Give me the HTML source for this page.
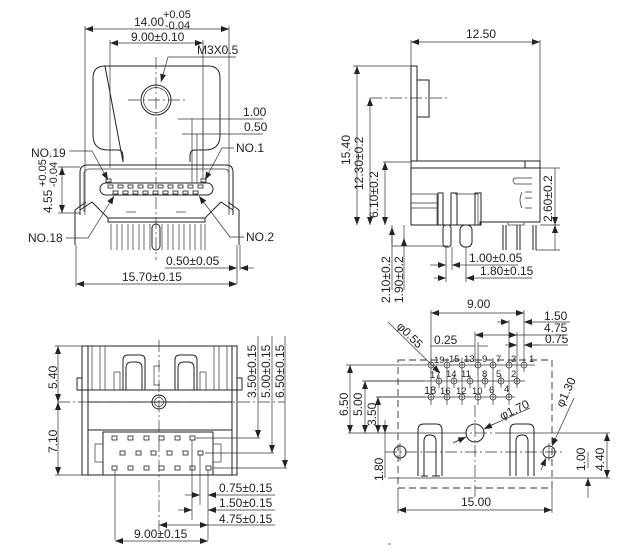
<!DOCTYPE html>
<html><head><meta charset="utf-8"><style>
html,body{margin:0;padding:0;background:#fff;}
svg{display:block;}
text{font-family:"Liberation Sans",sans-serif;font-size:12px;fill:#222;}
.l{stroke:#222;stroke-width:1;fill:none;}
.t{stroke:#333;stroke-width:0.7;fill:none;}
.c{stroke:#333;stroke-width:0.7;fill:none;stroke-dasharray:12,3,2,3;}
.d{stroke:#333;stroke-width:0.9;fill:none;stroke-dasharray:7,4;}
.p{stroke:#222;stroke-width:0.8;fill:#fff;}
</style></head><body>
<svg width="635" height="555" viewBox="0 0 635 555" xmlns="http://www.w3.org/2000/svg">
<defs>
<marker id="a" markerWidth="8" markerHeight="6" refX="8" refY="3" orient="auto-start-reverse" markerUnits="userSpaceOnUse"><path d="M0,0 L8,3 L0,6z" fill="#222"/></marker>
</defs>

<!-- ===== TOP LEFT ===== -->
<line class="t" x1="85" y1="26" x2="85" y2="215"/>
<line class="t" x1="229" y1="26" x2="229" y2="215"/>
<line class="t" x1="85" y1="29" x2="229" y2="29" marker-start="url(#a)" marker-end="url(#a)"/>
<text x="134" y="26">14.00</text><text x="163" y="18" style="font-size:11px">+0.05</text><text x="165" y="29" style="font-size:11px">-0.04</text>
<line class="t" x1="110" y1="40" x2="110" y2="168"/>
<line class="t" x1="203" y1="40" x2="203" y2="168"/>
<line class="t" x1="110" y1="43" x2="203" y2="43" marker-start="url(#a)" marker-end="url(#a)"/>
<text x="131" y="41">9.00±0.10</text>
<text x="197" y="54">M3X0.5</text>
<polyline class="t" points="236,57 168,57 161,82" marker-end="url(#a)"/>
<path class="l" d="M105,66 H208 Q220,66 220,78 V135 Q220,150 205,150 H195 Q190,150 190,156 V162 M123,162 V156 Q123,150 118,150 H108 Q93,150 93,135 V78 Q93,66 105,66z"/>
<circle class="l" cx="156" cy="100" r="15"/><circle class="t" cx="156" cy="100" r="12.5"/>
<line class="c" x1="128" y1="100" x2="185" y2="100"/>
<line class="c" x1="156" y1="57" x2="156" y2="260"/>
<line class="t" x1="178" y1="119" x2="263" y2="119"/><text x="243" y="116">1.00</text>
<line class="t" x1="182" y1="134" x2="263" y2="134"/><text x="244" y="131">0.50</text>
<line class="t" x1="192" y1="119" x2="192" y2="183"/><line class="t" x1="203" y1="119" x2="203" y2="183"/><line class="t" x1="197" y1="134" x2="197" y2="183"/>
<path class="l" d="M80,215 V172 Q80,165 88,165 H226 Q233,165 233,172 V215"/>
<path class="t" d="M84,212 V174 Q84,169 90,169 H224 Q229,169 229,174 V212"/>
<rect class="l" x="100" y="183" width="113" height="12" rx="6"/>
<g class="p">
<rect x="106" y="179" width="5" height="3"/><rect x="201" y="179" width="5" height="3"/>
<rect x="108" y="185" width="5" height="3"/><rect x="118" y="185" width="5" height="3"/><rect x="128" y="185" width="5" height="3"/><rect x="138" y="185" width="5" height="3"/><rect x="148" y="185" width="5" height="3"/><rect x="158" y="185" width="5" height="3"/><rect x="168" y="185" width="5" height="3"/><rect x="178" y="185" width="5" height="3"/><rect x="188" y="185" width="5" height="3"/><rect x="198" y="185" width="5" height="3"/>
<rect x="113" y="191" width="5" height="3"/><rect x="123" y="191" width="5" height="3"/><rect x="133" y="191" width="5" height="3"/><rect x="143" y="191" width="5" height="3"/><rect x="153" y="191" width="5" height="3"/><rect x="163" y="191" width="5" height="3"/><rect x="173" y="191" width="5" height="3"/><rect x="183" y="191" width="5" height="3"/><rect x="193" y="191" width="5" height="3"/>
</g>
<path class="l" d="M80,210 L92,202 L108,218 H205 L221,202 L233,210 M75,245 V210 L86,202 M239,245 V210 L228,202 M108,218 V222 H205 V218"/>
<line class="t" x1="126" y1="212" x2="136" y2="212"/><line class="t" x1="176" y1="212" x2="186" y2="212"/>
<g class="t">
<line x1="111" y1="224" x2="111" y2="250"/><line x1="117" y1="224" x2="117" y2="250"/><line x1="122" y1="224" x2="122" y2="250"/><line x1="128" y1="224" x2="128" y2="250"/><line x1="133" y1="224" x2="133" y2="250"/><line x1="139" y1="224" x2="139" y2="250"/><line x1="144" y1="224" x2="144" y2="250"/><line x1="150" y1="224" x2="150" y2="250"/><line x1="162" y1="224" x2="162" y2="250"/><line x1="168" y1="224" x2="168" y2="250"/><line x1="173" y1="224" x2="173" y2="250"/><line x1="179" y1="224" x2="179" y2="250"/><line x1="184" y1="224" x2="184" y2="250"/><line x1="190" y1="224" x2="190" y2="250"/><line x1="195" y1="224" x2="195" y2="250"/><line x1="201" y1="224" x2="201" y2="250"/><line x1="205" y1="224" x2="205" y2="250"/>
</g>
<rect class="l" x="152" y="224" width="8" height="26" rx="4"/>
<text x="31" y="157">NO.19</text><polyline class="t" points="69,151 92,151 108,180" marker-end="url(#a)"/>
<text x="236" y="152">NO.1</text><polyline class="t" points="234,148 222,148 205,180" marker-end="url(#a)"/>
<text x="28" y="242">NO.18</text><polyline class="t" points="66,238 88,238 114,196" marker-end="url(#a)"/>
<text x="246" y="241">NO.2</text><polyline class="t" points="244,237 230,237 199,196" marker-end="url(#a)"/>
<line class="t" x1="58" y1="167" x2="80" y2="167"/><line class="t" x1="58" y1="213" x2="80" y2="213"/>
<line class="t" x1="62" y1="167" x2="62" y2="213" marker-start="url(#a)" marker-end="url(#a)"/>
<text transform="translate(52,213) rotate(-90)">4.55</text><text transform="translate(46,187) rotate(-90)" style="font-size:11px">+0.05</text><text transform="translate(57,187) rotate(-90)" style="font-size:11px">-0.04</text>
<line class="t" x1="237" y1="245" x2="237" y2="284"/><line class="t" x1="240" y1="245" x2="240" y2="270"/>
<line class="t" x1="225" y1="268" x2="237" y2="268" marker-end="url(#a)"/><line class="t" x1="254" y1="268" x2="240" y2="268" marker-end="url(#a)"/>
<line class="t" x1="165" y1="268" x2="225" y2="268"/>
<text x="166" y="265">0.50±0.05</text>
<line class="t" x1="76" y1="245" x2="76" y2="287"/>
<line class="t" x1="76" y1="284" x2="237" y2="284" marker-start="url(#a)" marker-end="url(#a)"/>
<text x="122" y="281">15.70±0.15</text>

<!-- ===== TOP RIGHT ===== -->
<line class="t" x1="411" y1="40" x2="411" y2="66"/><line class="t" x1="540" y1="40" x2="540" y2="161"/>
<line class="t" x1="411" y1="42" x2="540" y2="42" marker-start="url(#a)" marker-end="url(#a)"/>
<text x="466" y="38">12.50</text>
<rect class="l" x="411" y="66" width="6" height="95"/>
<rect class="l" x="417" y="80" width="12" height="37"/>
<line class="c" x1="370" y1="98" x2="448" y2="98"/>
<line class="t" x1="353" y1="66" x2="411" y2="66"/>
<line class="t" x1="357" y1="66" x2="357" y2="225" marker-start="url(#a)" marker-end="url(#a)"/>
<text transform="translate(350,165) rotate(-90)">15.40</text>
<line class="t" x1="370" y1="98" x2="370" y2="225" marker-start="url(#a)" marker-end="url(#a)"/>
<text transform="translate(363,190) rotate(-90)">12.30±0.2</text>
<line class="t" x1="383" y1="162" x2="411" y2="162"/>
<line class="t" x1="385" y1="162" x2="385" y2="225" marker-start="url(#a)" marker-end="url(#a)"/>
<text transform="translate(378,218) rotate(-90)">6.10±0.2</text>
<path class="l" d="M411,161 H540 V222 H480 V225 H411z"/>
<line class="l" x1="411" y1="168" x2="540" y2="168"/>
<rect class="l" x="525" y="161" width="15" height="7"/>
<path class="t" d="M411,194 H437 M411,203 H437 M411,208 H437 M437,194 V225 M455,194 H478 V225"/>
<path class="t" d="M532,178 H515 Q511,180 515,184 H532 M525,192 H532 M525,198 H532 M525,208 H532 M522,192 Q518,200 522,208"/>
<rect class="l" x="438" y="193" width="5" height="32"/><rect class="l" x="451" y="193" width="6" height="32"/><rect class="l" x="475" y="193" width="6" height="32"/>
<rect class="l" x="443" y="225" width="8" height="22" rx="3"/><rect class="l" x="460" y="225" width="12" height="22" rx="5"/>
<line class="l" x1="503" y1="225" x2="503" y2="250"/><line class="l" x1="506" y1="225" x2="506" y2="250"/>
<line class="l" x1="517" y1="225" x2="517" y2="250"/><line class="l" x1="520" y1="225" x2="520" y2="250"/>
<line class="l" x1="533" y1="225" x2="533" y2="250"/><line class="l" x1="536" y1="225" x2="536" y2="250"/>
<rect class="t" x="508" y="222" width="16" height="3"/>
<line class="t" x1="540" y1="168" x2="560" y2="168"/><line class="t" x1="540" y1="225" x2="560" y2="225"/><line class="t" x1="536" y1="250" x2="560" y2="250"/>
<line class="t" x1="555" y1="168" x2="555" y2="225" marker-end="url(#a)"/>
<line class="t" x1="555" y1="225" x2="555" y2="250" marker-start="url(#a)"/>
<text transform="translate(552,222) rotate(-90)">2.60±0.2</text>
<line class="t" x1="392" y1="225" x2="392" y2="290" /><line class="t" x1="404" y1="225" x2="404" y2="290"/>
<line class="t" x1="392" y1="227" x2="392" y2="245" marker-start="url(#a)"/>
<line class="t" x1="404" y1="238" x2="404" y2="245" marker-start="url(#a)"/>
<line class="t" x1="392" y1="246" x2="448" y2="246"/>
<text transform="translate(390,303) rotate(-90)">2.10±0.2</text>
<text transform="translate(403,303) rotate(-90)">1.90±0.2</text>
<line class="t" x1="446" y1="247" x2="446" y2="282"/><line class="t" x1="452" y1="247" x2="452" y2="270"/><line class="t" x1="466" y1="247" x2="466" y2="282"/>
<line class="t" x1="430" y1="265" x2="446" y2="265" marker-end="url(#a)"/><line class="t" x1="468" y1="265" x2="452" y2="265" marker-end="url(#a)"/>
<line class="t" x1="468" y1="265" x2="518" y2="265"/>
<text x="469" y="262">1.00±0.05</text>
<line class="t" x1="434" y1="278" x2="446" y2="278" marker-end="url(#a)"/><line class="t" x1="478" y1="278" x2="466" y2="278" marker-end="url(#a)"/>
<line class="t" x1="478" y1="278" x2="532" y2="278"/>
<text x="480" y="275">1.80±0.15</text>

<!-- ===== BOTTOM LEFT ===== -->
<path class="l" d="M82,346 H237 V475 H82z"/>
<line class="l" x1="82" y1="390" x2="237" y2="390"/>
<line class="l" x1="88" y1="402" x2="232" y2="402"/>
<line class="l" x1="88" y1="346" x2="88" y2="475"/><line class="l" x1="232" y1="346" x2="232" y2="475"/>
<rect class="l" x="77" y="378" width="5" height="12"/><rect class="l" x="237" y="378" width="5" height="12"/>
<path class="t" d="M92,346 V390 M100,346 V390 M105,346 V390 M214,346 V390 M219,346 V390 M227,346 V390"/>
<path class="l" d="M123,390 V360 Q123,355 128,355 H140 Q145,355 145,360 V390 M126,390 V368 Q126,362 132,362 H136 Q142,362 142,368 V390"/>
<path class="l" d="M175,390 V360 Q175,355 180,355 H192 Q197,355 197,360 V390 M178,390 V368 Q178,362 184,362 H188 Q194,362 194,368 V390"/>
<rect class="t" x="114" y="372" width="6" height="18"/><rect class="t" x="200" y="372" width="6" height="18"/>
<path class="t" d="M160,366 H154 V385 H160"/>
<circle class="l" cx="159" cy="402" r="7"/><circle class="t" cx="159" cy="402" r="4.5"/>
<line class="l" x1="88" y1="430" x2="232" y2="430"/>
<rect class="l" x="103" y="432" width="110" height="43"/>
<rect class="t" x="95" y="444" width="8" height="18"/><rect class="t" x="213" y="444" width="8" height="18"/>
<line class="c" x1="58" y1="402" x2="285" y2="402"/>
<line class="c" x1="159" y1="340" x2="159" y2="542"/>
<g class="p">
<rect x="112" y="436" width="5" height="4"/><rect x="128" y="436" width="5" height="4"/><rect x="144" y="436" width="5" height="4"/><rect x="159" y="436" width="5" height="4"/><rect x="175" y="436" width="5" height="4"/><rect x="190" y="436" width="5" height="4"/>
<rect x="120" y="451" width="5" height="4"/><rect x="136" y="451" width="5" height="4"/><rect x="151" y="451" width="5" height="4"/><rect x="167" y="451" width="5" height="4"/><rect x="183" y="451" width="5" height="4"/><rect x="198" y="451" width="5" height="4"/>
<rect x="112" y="466" width="5" height="4"/><rect x="128" y="466" width="5" height="4"/><rect x="144" y="466" width="5" height="4"/><rect x="159" y="466" width="5" height="4"/><rect x="175" y="466" width="5" height="4"/><rect x="190" y="466" width="5" height="4"/><rect x="206" y="466" width="5" height="4"/>
</g>
<line class="t" x1="55" y1="346" x2="82" y2="346"/><line class="t" x1="55" y1="475" x2="82" y2="475"/>
<line class="t" x1="58" y1="346" x2="58" y2="402" marker-start="url(#a)" marker-end="url(#a)"/>
<line class="t" x1="58" y1="402" x2="58" y2="475" marker-start="url(#a)" marker-end="url(#a)"/>
<text transform="translate(57,389) rotate(-90)">5.40</text>
<text transform="translate(57,453) rotate(-90)">7.10</text>
<line class="t" x1="258" y1="336" x2="258" y2="438" marker-end="url(#a)"/>
<line class="t" x1="272" y1="336" x2="272" y2="453" marker-end="url(#a)"/>
<line class="t" x1="285" y1="336" x2="285" y2="468" marker-end="url(#a)"/>
<line class="t" x1="196" y1="438" x2="260" y2="438"/><line class="t" x1="205" y1="453" x2="274" y2="453"/><line class="t" x1="213" y1="468" x2="287" y2="468"/>
<text transform="translate(256,398) rotate(-90)">3.50±0.15</text>
<text transform="translate(270,398) rotate(-90)">5.00±0.15</text>
<text transform="translate(284,398) rotate(-90)">6.50±0.15</text>
<line class="t" x1="192" y1="440" x2="192" y2="520"/><line class="t" x1="200" y1="455" x2="200" y2="505"/><line class="t" x1="208" y1="470" x2="208" y2="540"/>
<line class="t" x1="115" y1="470" x2="115" y2="540"/>
<line class="t" x1="185" y1="495" x2="200" y2="495" marker-end="url(#a)"/><line class="t" x1="275" y1="495" x2="208" y2="495" marker-end="url(#a)"/>
<text x="219" y="492">0.75±0.15</text>
<line class="t" x1="178" y1="510" x2="192" y2="510" marker-end="url(#a)"/><line class="t" x1="275" y1="510" x2="208" y2="510" marker-end="url(#a)"/>
<text x="219" y="507">1.50±0.15</text>
<line class="t" x1="159" y1="525" x2="208" y2="525" marker-start="url(#a)" marker-end="url(#a)"/>
<line class="t" x1="208" y1="525" x2="275" y2="525"/>
<text x="219" y="523">4.75±0.15</text>
<line class="t" x1="115" y1="541" x2="208" y2="541" marker-start="url(#a)" marker-end="url(#a)"/>
<text x="134" y="538">9.00±0.15</text>

<!-- ===== BOTTOM RIGHT ===== -->
<line class="t" x1="431" y1="310" x2="431" y2="362"/><line class="t" x1="524" y1="310" x2="524" y2="362"/>
<line class="t" x1="431" y1="313" x2="524" y2="313" marker-start="url(#a)" marker-end="url(#a)"/>
<text x="467" y="308">9.00</text>
<line class="t" x1="509" y1="320" x2="509" y2="362"/><line class="t" x1="517" y1="332" x2="517" y2="385"/>
<line class="t" x1="497" y1="322" x2="509" y2="322" marker-end="url(#a)"/><line class="t" x1="570" y1="322" x2="524" y2="322" marker-end="url(#a)"/>
<text x="544" y="320">1.50</text>
<line class="t" x1="475" y1="335" x2="517" y2="335" marker-start="url(#a)" marker-end="url(#a)"/><line class="t" x1="517" y1="335" x2="566" y2="335"/>
<line class="t" x1="475" y1="332" x2="475" y2="362"/>
<text x="544" y="332">4.75</text>
<line class="t" x1="505" y1="345" x2="517" y2="345" marker-end="url(#a)"/><line class="t" x1="540" y1="345" x2="524" y2="345" marker-end="url(#a)"/><line class="t" x1="524" y1="345" x2="568" y2="345"/>
<text x="545" y="343">0.75</text>
<line class="t" x1="431" y1="346" x2="475" y2="346"/><text x="434" y="344">0.25</text>
<line class="t" x1="478" y1="346" x2="488" y2="346"/><line class="t" x1="478" y1="342" x2="478" y2="362"/>
<rect class="d" x="398" y="360" width="154" height="128"/>
<g class="t">
<line x1="425" y1="365" x2="535" y2="365"/><line x1="365" y1="381" x2="525" y2="381"/><line x1="378" y1="397" x2="515" y2="397"/>
<circle cx="431" cy="365" r="3"/><circle cx="447" cy="365" r="3"/><circle cx="462" cy="365" r="3"/><circle cx="478" cy="365" r="3"/><circle cx="493" cy="365" r="3"/><circle cx="509" cy="365" r="3"/><circle cx="524" cy="365" r="3"/>
<circle cx="439" cy="381" r="3"/><circle cx="454" cy="381" r="3"/><circle cx="470" cy="381" r="3"/><circle cx="485" cy="381" r="3"/><circle cx="501" cy="381" r="3"/><circle cx="517" cy="381" r="3"/>
<circle cx="431" cy="397" r="3"/><circle cx="447" cy="397" r="3"/><circle cx="462" cy="397" r="3"/><circle cx="478" cy="397" r="3"/><circle cx="493" cy="397" r="3"/><circle cx="509" cy="397" r="3"/>
<line x1="431" y1="358" x2="431" y2="405"/><line x1="447" y1="358" x2="447" y2="405"/><line x1="462" y1="358" x2="462" y2="405"/><line x1="478" y1="358" x2="478" y2="405"/><line x1="493" y1="358" x2="493" y2="405"/><line x1="509" y1="358" x2="509" y2="405"/><line x1="524" y1="358" x2="524" y2="372"/>
<line x1="439" y1="375" x2="439" y2="388"/><line x1="454" y1="375" x2="454" y2="388"/><line x1="470" y1="375" x2="470" y2="388"/><line x1="485" y1="375" x2="485" y2="388"/><line x1="501" y1="375" x2="501" y2="388"/><line x1="517" y1="375" x2="517" y2="388"/>
</g>
<g>
<text x="434" y="363" style="font-size:9.5px">19</text><text x="449" y="362" style="font-size:9.5px">15</text><text x="464" y="362" style="font-size:9.5px">13</text><text x="482" y="362" style="font-size:9.5px">9</text><text x="496" y="362" style="font-size:9.5px">7</text><text x="511" y="362" style="font-size:9.5px">3</text><text x="529" y="362" style="font-size:9.5px">1</text>
<text x="430" y="378" style="font-size:9.5px">17</text><text x="446" y="377" style="font-size:9.5px">14</text><text x="461" y="377" style="font-size:9.5px">11</text><text x="482" y="377" style="font-size:9.5px">8</text><text x="496" y="377" style="font-size:9.5px">5</text><text x="511" y="377" style="font-size:9.5px">2</text>
<text x="424" y="394" style="font-size:11px">18</text><text x="440" y="394" style="font-size:9.5px">16</text><text x="456" y="394" style="font-size:9.5px">12</text><text x="472" y="394" style="font-size:9.5px">10</text><text x="489" y="393" style="font-size:9.5px">6</text><text x="504" y="392" style="font-size:9.5px">4</text>
</g>
<line class="t" x1="388" y1="322" x2="440" y2="373" marker-end="url(#a)"/>
<text transform="translate(396,327) rotate(45)">φ0.55</text>
<line class="t" x1="348" y1="433" x2="455" y2="433"/><line class="c" x1="455" y1="433" x2="500" y2="433"/><line class="t" x1="500" y1="433" x2="610" y2="433"/>
<line class="c" x1="475" y1="405" x2="475" y2="500"/>
<circle class="l" cx="475" cy="433" r="9"/>
<line class="t" x1="453" y1="443" x2="466" y2="437"/><line class="t" x1="485" y1="428" x2="530" y2="408"/>
<line class="t" x1="455" y1="442" x2="466" y2="437" marker-end="url(#a)"/><line class="t" x1="494" y1="424" x2="484" y2="429" marker-end="url(#a)"/>
<text transform="translate(502,420) rotate(-25)">φ1.70</text>
<line class="c" x1="385" y1="452" x2="565" y2="452"/>
<circle class="l" cx="400" cy="452" r="6"/><circle class="l" cx="549" cy="452" r="6"/>
<line class="t" x1="400" y1="443" x2="400" y2="461"/><line class="t" x1="549" y1="443" x2="549" y2="461"/>
<line class="t" x1="574" y1="398" x2="552" y2="446" marker-end="url(#a)"/><line class="t" x1="541" y1="470" x2="546" y2="458" marker-end="url(#a)"/>
<text transform="translate(563,408) rotate(-65)">φ1.30</text>
<path class="l" d="M418,476 V430 Q418,424 424,424 H436 Q442,424 442,430 V476 M424,476 V441 Q424,435 430,435 Q436,435 436,441 V476 M421,476 H428 M432,476 H440"/>
<path class="l" d="M510,476 V430 Q510,424 516,424 H528 Q534,424 534,430 V476 M516,476 V441 Q516,435 522,435 Q528,435 528,441 V476"/>
<line class="t" x1="388" y1="478" x2="610" y2="478"/>
<line class="t" x1="346" y1="365" x2="425" y2="365"/>
<line class="t" x1="362" y1="381" x2="425" y2="381"/>
<line class="t" x1="376" y1="397" x2="425" y2="397"/>
<line class="t" x1="350" y1="365" x2="350" y2="433" marker-start="url(#a)" marker-end="url(#a)"/>
<line class="t" x1="365" y1="381" x2="365" y2="433" marker-start="url(#a)" marker-end="url(#a)"/>
<line class="t" x1="378" y1="397" x2="378" y2="433" marker-start="url(#a)" marker-end="url(#a)"/>
<text transform="translate(348,416) rotate(-90)">6.50</text>
<text transform="translate(362,416) rotate(-90)">5.00</text>
<text transform="translate(376,426) rotate(-90)">3.50</text>
<line class="t" x1="385" y1="420" x2="385" y2="433" marker-end="url(#a)"/><line class="t" x1="385" y1="433" x2="385" y2="478"/>
<text transform="translate(383,481) rotate(-90)">1.80</text>
<line class="t" x1="588" y1="478" x2="588" y2="498" marker-start="url(#a)"/>
<line class="t" x1="588" y1="452" x2="588" y2="468"/>
<text transform="translate(585,471) rotate(-90)">1.00</text>
<line class="t" x1="607" y1="433" x2="607" y2="478" marker-start="url(#a)" marker-end="url(#a)"/>
<text transform="translate(604,471) rotate(-90)">4.40</text>
<line class="t" x1="398" y1="488" x2="398" y2="513"/><line class="t" x1="552" y1="488" x2="552" y2="513"/>
<line class="t" x1="398" y1="510" x2="552" y2="510" marker-start="url(#a)" marker-end="url(#a)"/>
<text x="461" y="506">15.00</text>
<line class="t" x1="388" y1="544" x2="391" y2="544"/>
</svg>
</body></html>
